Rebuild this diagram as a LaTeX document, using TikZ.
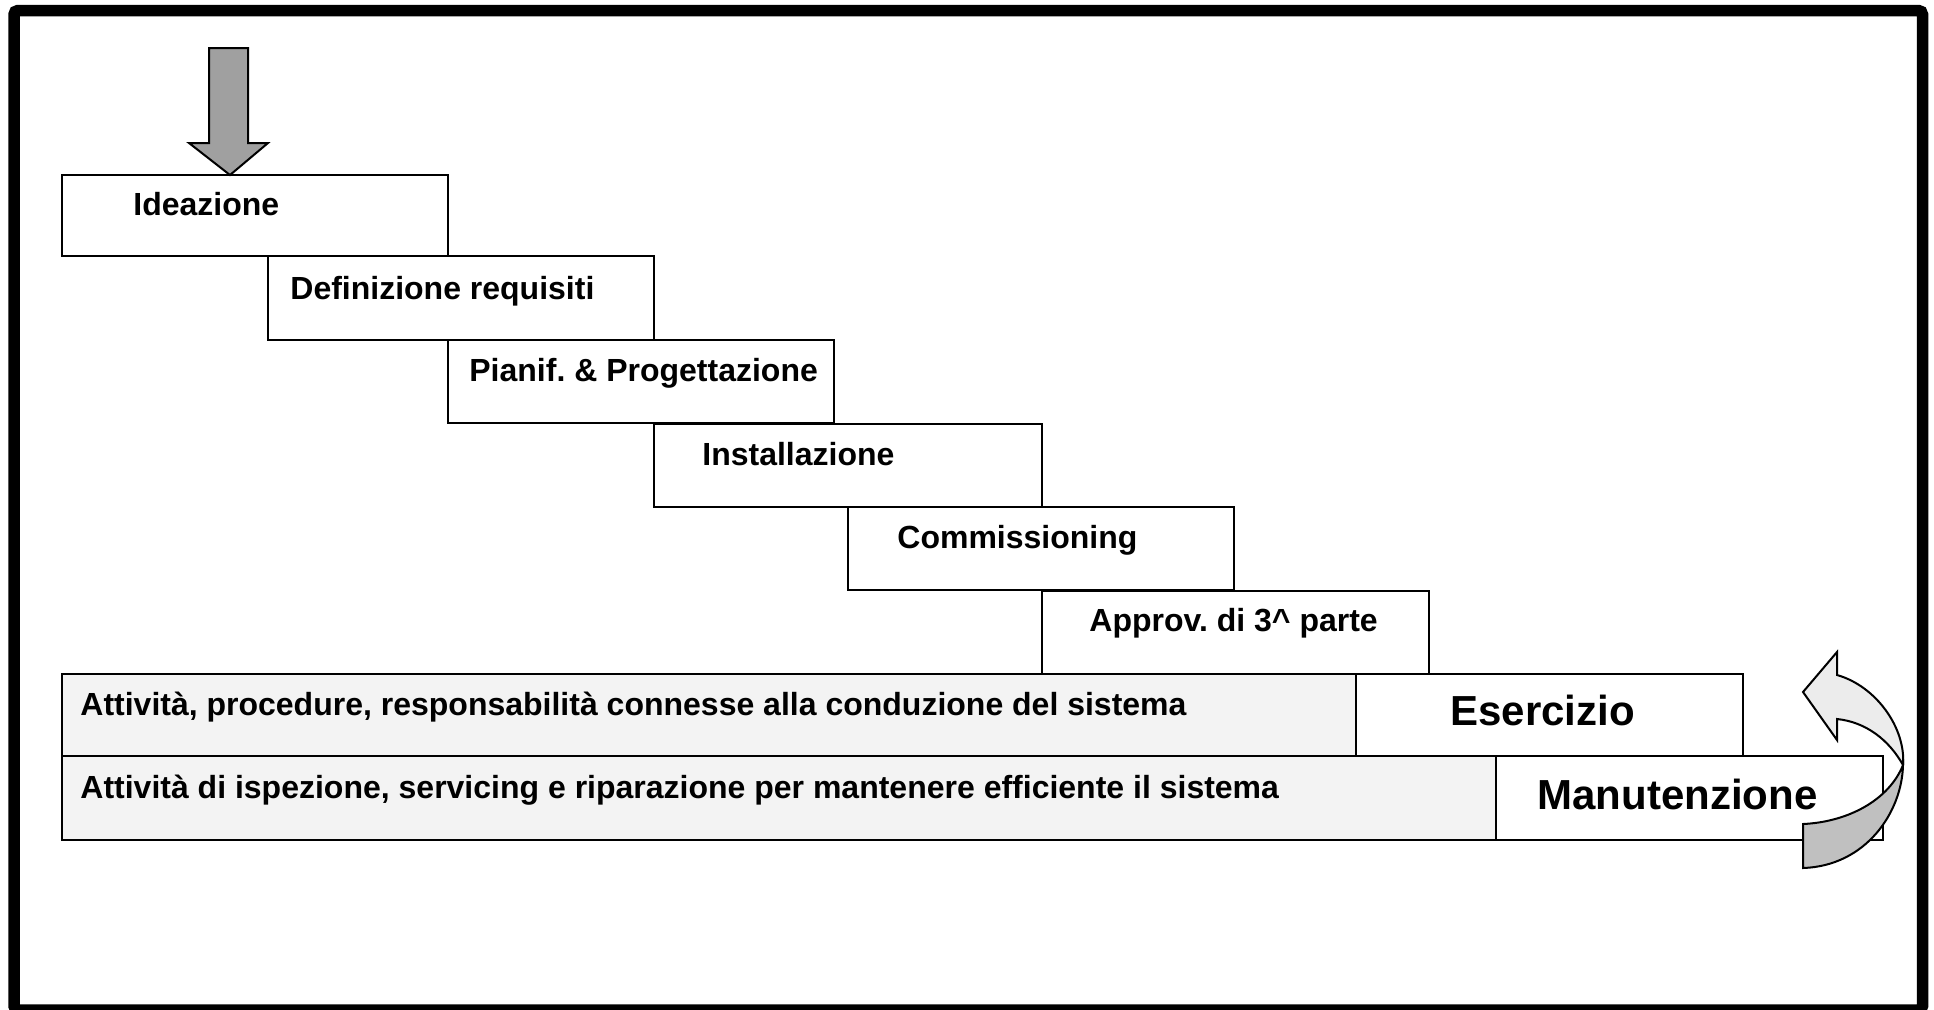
\documentclass[tikz,border=0pt]{standalone}
\usepackage{fontspec}
\setmainfont{Liberation Sans}
\frenchspacing
\definecolor{arrowgray}{RGB}{160,160,160}
\definecolor{barfill}{RGB}{243,243,243}
\definecolor{bandlight}{RGB}{236,236,236}
\definecolor{banddark}{RGB}{192,192,192}

\begin{document}
\begin{tikzpicture}[
        x=0.5pt, y=-0.5pt,
        stepbox/.style={draw,line width=1pt,fill=white,anchor=north west,inner sep=0pt,outer sep=0pt,minimum width=193pt,minimum height=41.5pt},
        barbox/.style={stepbox,fill=barfill},
        steptext/.style={anchor=base west,inner sep=0pt,font=\bfseries\fontsize{16}{19}\selectfont},
        bigtext/.style={anchor=base west,inner sep=0pt,font=\bfseries\fontsize{21}{25}\selectfont},
        blockarrow/.style={draw,line width=1pt,line join=miter}
    ]
        \useasboundingbox (0,0) rectangle (1934,1009);
        % Frame
        \draw[line width=5.75pt,rounded corners=2pt] (14,10.5) rectangle (1922.5,1010);

        % Define the bottom bars
        \node[barbox,minimum width=647pt,minimum height=41pt] (cond) at (62,674) {};
        \node[stepbox,minimum width=193.5pt,minimum height=41pt] (eser) at (1356,674) {};
        \node[barbox,minimum width=717pt,minimum height=42pt] (isp) at (62,756) {};
        \node[stepbox,minimum width=193.5pt,minimum height=42pt] (man) at (1496,756) {};

        % Define the steps
        \node[stepbox,minimum height=40.5pt] (idea) at (62,175) {};
        \node[stepbox,minimum height=42pt] (req) at (268,256) {};
        \node[stepbox] (prog) at (448,340) {};
        \node[stepbox,minimum width=194pt] (inst) at (654,424) {};
        \node[stepbox] (comm) at (848,507) {};
        \node[stepbox,minimum width=193.5pt,minimum height=41.5pt] (appr) at (1042,591) {};

        % Texts
        \node[steptext] (idea-t) at ([shift={(71,40)}]idea.north west) {Ideazione};
        \node[steptext] (req-t) at ([shift={(22,43)}]req.north west) {Definizione requisiti};
        \node[steptext] (prog-t) at ([shift={(21,41)}]prog.north west) {Pianif. \& Progettazione};
        \node[steptext] (inst-t) at ([shift={(48,41)}]inst.north west) {Installazione};
        \node[steptext] (comm-t) at ([shift={(49,41)}]comm.north west) {Commissioning};
        \node[steptext] (appr-t) at ([shift={(47,40)}]appr.north west) {Approv. di 3\textasciicircum\ parte};
        \node[steptext] (cond-t) at ([shift={(18,41)}]cond.north west) {Attività, procedure, responsabilità connesse alla conduzione del sistema};
        \node[steptext] (isp-t) at ([shift={(18,42)}]isp.north west) {Attività di ispezione, servicing e riparazione per mantenere efficiente il sistema};
        \node[bigtext] (eser-t) at ([shift={(94,51)}]eser.north west) {Esercizio};
        \node[bigtext] (man-t) at ([shift={(41,53)}]man.north west) {Manutenzione};

        % Arrow into the first step
        \filldraw[blockarrow,fill=arrowgray] ([shift={(168,0)}]idea.north west) -- (189,143) -- (209,143) -- (209,48)
            -- (248,48) -- (248,143) -- (268,143) -- cycle;

        % Loop arrow
        \filldraw[blockarrow,fill=bandlight] (1803,692) -- (1837,652) -- (1837,675)
            .. controls (1876,686) and (1906,728) .. (1903,765)
            .. controls (1889,740) and (1866,722) .. (1837,719) -- (1837,740) -- cycle;
        \filldraw[blockarrow,fill=banddark] (1903,765) .. controls (1902,812) and (1866,866) .. (1803,868)
            -- (1803,824) .. controls (1848,822) and (1889,800) .. (1903,765) -- cycle;
    \end{tikzpicture}
\end{document}
